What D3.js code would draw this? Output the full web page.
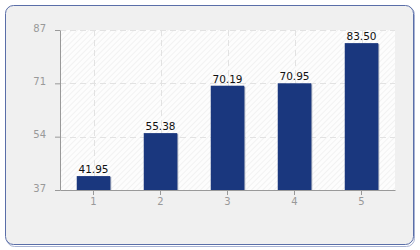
<!DOCTYPE html>
<html><head><meta charset="utf-8">
<script src="https://cdn.jsdelivr.net/npm/d3@7"></script>
<style>html,body{margin:0;padding:0;background:#fff;}svg{display:block;}</style>
</head><body>
<script>
const categories = ["1","2","3","4","5"];
const values = [41.95, 55.38, 70.19, 70.95, 83.50];
const valueLabels = ["41.95","55.38","70.19","70.95","83.50"];
const yTickLabels = ["37","54","71","87"];

const W = 420, H = 250;
const m = {l:60, r:25, t:30, b:60};
const svg = d3.select("body").append("svg").attr("width", W).attr("height", H);

const defs = svg.append("defs");
const pat = defs.append("pattern").attr("id","hatch").attr("patternUnits","userSpaceOnUse")
  .attr("width",4).attr("height",4).attr("patternTransform","rotate(45)");
pat.append("rect").attr("width",4).attr("height",4).attr("fill","#fdfdfd");
pat.append("line").attr("x1",0).attr("y1",0).attr("x2",0).attr("y2",4).attr("stroke","#ececec").attr("stroke-width",1.2);

// outer panel with shadow
svg.append("rect").attr("x",6.5).attr("y",6.5).attr("width",408).attr("height",240).attr("rx",8)
  .attr("fill","none").attr("stroke","#a8b3d3").attr("stroke-width",1);
svg.append("rect").attr("x",5.5).attr("y",5.5).attr("width",408).attr("height",239).attr("rx",8)
  .attr("fill","#f0f0f0").attr("stroke","#5a6ea8").attr("stroke-width",1);

const pw = 395 - m.l, ph = 190 - m.t;
const g = svg.append("g").attr("transform",`translate(${m.l},${m.t})`);
g.append("rect").attr("width",pw).attr("height",ph).attr("fill","url(#hatch)");

const x = d3.scaleBand().domain(categories).range([0,pw]).paddingInner(0.5).paddingOuter(0.25);
const y = d3.scaleLinear().domain([37.6, 87.6]).range([ph,0]);
const tickVals = yTickLabels.map((d,i)=> 37.6 + i*50/3);

// gridlines
g.selectAll(".hg").data(tickVals.slice(1)).enter().append("line")
  .attr("x1",0).attr("x2",pw).attr("y1",d=>Math.round(y(d))+0.5).attr("y2",d=>Math.round(y(d))+0.5)
  .attr("stroke","#e2e2e2").attr("stroke-dasharray","6,4");
g.selectAll(".vg").data(categories).enter().append("line")
  .attr("x1",d=>Math.round(x(d)+x.bandwidth()/2)+0.5).attr("x2",d=>Math.round(x(d)+x.bandwidth()/2)+0.5)
  .attr("y1",0).attr("y2",ph).attr("stroke","#e2e2e2").attr("stroke-dasharray","6,4");

// bars
const bars = g.selectAll(".bar").data(values).enter();
bars.append("rect").attr("x",(d,i)=>x(categories[i])+1).attr("y",d=>y(d)+1)
  .attr("width",x.bandwidth()).attr("height",d=>ph-y(d)-1).attr("fill","#9aa3b8");
bars.append("rect").attr("x",(d,i)=>x(categories[i])).attr("y",d=>y(d))
  .attr("width",x.bandwidth()).attr("height",d=>ph-y(d)).attr("fill","#1a377e");
bars.append("text").attr("x",(d,i)=>x(categories[i])+x.bandwidth()/2).attr("y",d=>y(d)-3)
  .attr("text-anchor","middle").attr("font-family","Verdana, DejaVu Sans, sans-serif").attr("font-size",10.5)
  .attr("fill","#111").text((d,i)=>valueLabels[i]);

// axes
const yAxis = d3.axisLeft(y).tickValues(tickVals).tickFormat((d,i)=>yTickLabels[i]).tickSize(5).tickSizeOuter(0);
const ya = g.append("g").call(yAxis);
const xAxis = d3.axisBottom(x).tickSize(5).tickSizeOuter(0);
const xa = g.append("g").attr("transform",`translate(0,${ph})`).call(xAxis);
[ya,xa].forEach(a=>{
  a.select(".domain").attr("stroke","#999");
  a.selectAll(".tick line").attr("stroke","#999");
  a.selectAll("text").attr("fill","#999").attr("font-family","Verdana, DejaVu Sans, sans-serif").attr("font-size",10);
});
ya.selectAll("text").attr("x",-14).attr("dy","0.1em");
xa.selectAll("text").attr("y",8);
</script>
</body></html>
